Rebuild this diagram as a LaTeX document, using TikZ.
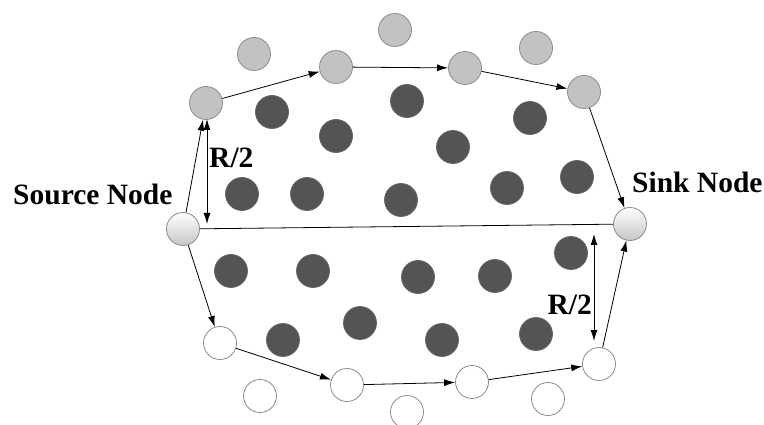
\documentclass[tikz,border=0pt]{standalone}
\usepackage{fontspec}
\setmainfont{Liberation Serif}
\usetikzlibrary{arrows.meta}
\begin{document}
\begin{tikzpicture}[x=1pt,y=-1pt,
  nd/.style={circle,minimum size=33pt,inner sep=0pt,draw=gray!90,line width=0.8pt},
  gnode/.style={nd,fill=gray!48},
  dnode/.style={nd,fill=black!67,draw=black!60},
  wnode/.style={nd,fill=white},
  endnode/.style={nd,top color=white,bottom color=gray!45},
  arr/.style={-{Latex[length=11pt,width=7pt]},line width=0.8pt},
  darr/.style={{Latex[length=11pt,width=7pt]}-{Latex[length=11pt,width=7pt]},line width=0.8pt},
  lbl/.style={font=\fontsize{29.5}{31}\selectfont\bfseries,inner sep=0pt}]
\useasboundingbox (0,0) rectangle (764,425);
% gray nodes
\node[gnode] (g1) at (206,103) {};
\node[gnode] (g2) at (336,67) {};
\node[gnode] (g3) at (465,68) {};
\node[gnode] (g4) at (584,92) {};
\node[gnode] (g5) at (254,54) {};
\node[gnode] (g6) at (395,30) {};
\node[gnode] (g7) at (536,48) {};
% dark nodes
\node[dnode] (d1) at (272,112) {};
\node[dnode] (d2) at (407,101) {};
\node[dnode] (d3) at (336,136) {};
\node[dnode] (d4) at (453,147) {};
\node[dnode] (d5) at (530,118) {};
\node[dnode] (d6) at (242,194) {};
\node[dnode] (d7) at (307,194) {};
\node[dnode] (d8) at (401,200) {};
\node[dnode] (d9) at (507,188) {};
\node[dnode] (d10) at (577,177) {};
\node[dnode] (d11) at (231,271) {};
\node[dnode] (d12) at (313,271) {};
\node[dnode] (d13) at (418,277) {};
\node[dnode] (d14) at (495,276) {};
\node[dnode] (d15) at (571,253) {};
\node[dnode] (d16) at (360,323) {};
\node[dnode] (d17) at (283,340) {};
\node[dnode] (d18) at (442,340) {};
\node[dnode] (d19) at (536,334) {};
% white nodes
\node[wnode] (w1) at (220,343) {};
\node[wnode] (w2) at (347,385) {};
\node[wnode] (w3) at (472,382) {};
\node[wnode] (w4) at (599,364) {};
\node[wnode] (w5) at (260,396) {};
\node[wnode] (w6) at (407,412) {};
\node[wnode] (w7) at (548,399) {};
% source and sink
\node[endnode] (src) at (183,229) {};
\node[endnode] (snk) at (630,224) {};
\node[lbl,anchor=base west] (srcl) at (13,205) {Source Node};
\node[lbl,anchor=base west] (snkl) at (632,193) {Sink Node};
% paths
\draw[arr] (src) -- (g1);
\draw[arr] (g1) -- (g2);
\draw[arr] (g2) -- (g3);
\draw[arr] (g3) -- (g4);
\draw[arr] (g4) -- (snk);
\draw[line width=0.8pt] (src) -- (snk);
\draw[arr] (src) -- (w1);
\draw[arr] (w1) -- (w2);
\draw[arr] (w2) -- (w3);
\draw[arr] (w3) -- (w4);
\draw[arr] (w4) -- (snk);
% R/2 markers
\coordinate (r1a) at (207,119);
\coordinate (r1b) at (207,224);
\draw[darr] (r1a) -- (r1b);
\node[lbl,anchor=base west] (r1l) at (209,168) {R/2};
\coordinate (r2a) at (594,234);
\coordinate (r2b) at (594,341);
\draw[darr] (r2a) -- (r2b);
\node[lbl,anchor=base east] (r2l) at (592,314) {R/2};
\end{tikzpicture}
\end{document}
